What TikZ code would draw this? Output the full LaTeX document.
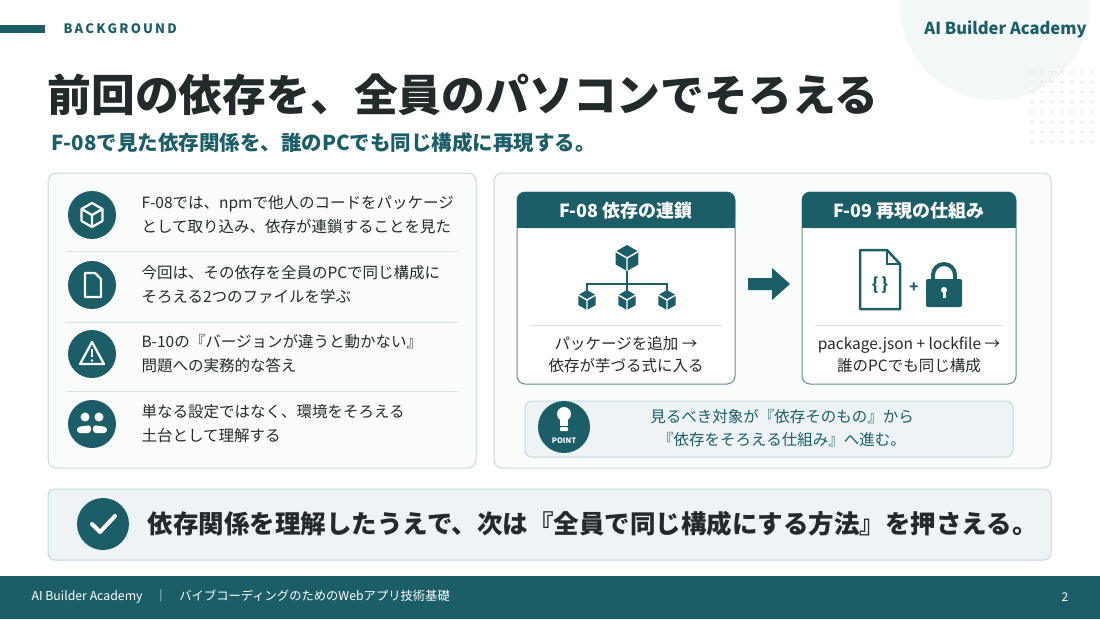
\documentclass[tikz,border=0pt]{standalone}
\usepackage{fontspec}
\setmainfont{Noto Sans CJK JP}
\usetikzlibrary{arrows.meta,shapes.geometric}
\definecolor{teal}{HTML}{1B5E68}
\definecolor{bord}{HTML}{C3DADD}
\definecolor{panel}{HTML}{FAFCFC}
\definecolor{soft}{HTML}{EEF4F5}
\definecolor{ink}{HTML}{222A2C}
\definecolor{sep}{HTML}{D5E3E5}
\tikzset{
  panelbox/.style={draw=bord,line width=1pt,fill=panel,rounded corners=8pt},
  softbox/.style={draw=bord,line width=1pt,fill=soft,rounded corners=7pt},
  icirc/.style={circle,fill=teal,minimum size=48pt,inner sep=0pt},
  body/.style={font=\fontsize{15.5}{24}\selectfont,text=ink,anchor=west,align=left},
  ctext/.style={font=\fontsize{15.5}{22}\selectfont,text=ink,align=center},
  hdr/.style={font=\bfseries\fontsize{18}{20}\selectfont,text=white},
  sepl/.style={draw=sep,line width=1pt},
  pics/cube/.style={code={
    \fill[teal] (0,-1)--(0.87,-0.5)--(0.87,0.5)--(0,1)--(-0.87,0.5)--(-0.87,-0.5)--cycle;
    \draw[white,line width=1.4pt] (-0.87,-0.5)--(0,0)--(0.87,-0.5) (0,0)--(0,1);
  }},
  pics/wcube/.style={code={
    \draw[white,line width=2.2pt,line join=round] (0,-1)--(0.87,-0.5)--(0.87,0.5)--(0,1)--(-0.87,0.5)--(-0.87,-0.5)--cycle;
    \draw[white,line width=2.2pt] (-0.87,-0.5)--(0,0)--(0.87,-0.5) (0,0)--(0,1);
  }}
}
\begin{document}
\begin{tikzpicture}[x=1pt,y=-1pt]
\useasboundingbox (0,0) rectangle (1100,619);
\fill[white] (0,0) rectangle (1100,619);
% decoration top right
\begin{scope}
\clip (0,0) rectangle (1100,619);
\fill[soft!70] (995,5) circle (95);
\foreach \i in {0,...,6}{\foreach \j in {0,...,7}{\fill[bord!80] (1032+\i*10,72+\j*10) circle (1.1);}}
\end{scope}
% header
\fill[teal] (0,25) rectangle (45,33);
\node[anchor=west,text=teal,font=\bfseries\fontsize{13}{14}\selectfont] (bg) at (60,29) {B\,A\,C\,K\,G\,R\,O\,U\,N\,D};
\node[anchor=east,text=teal,font=\bfseries\fontsize{16.5}{18}\selectfont] (brand) at (1090,29) {AI Builder Academy};
\node[anchor=west,text=ink,font=\bfseries\fontsize{43.8}{46}\selectfont] (title) at (44,95) {前回の依存を、全員のパソコンでそろえる};
\node[anchor=west,text=teal,font=\bfseries\fontsize{20.5}{22}\selectfont] (sub) at (48,143) {F-08で見た依存関係を、誰のPCでも同じ構成に再現する。};
% left panel
\draw[panelbox] (48,173) rectangle (476,468);
\draw[sepl] (66,251)--(458,251) (66,322)--(458,322) (66,391)--(458,391);
\node[icirc] (i1) at (92,215) {};
\node[icirc] (i2) at (92,285) {};
\node[icirc] (i3) at (92,354) {};
\node[icirc] (i4) at (92,424) {};
\pic[scale=12] at (i1) {wcube};
\draw[white,line width=2.2pt,line join=round] (85,273)--(95,273)--(101,279)--(101,297)--(85,297)--cycle;
\draw[white,line width=2.2pt,line join=round] (92,342)--(104,364)--(80,364)--cycle;
\draw[white,line width=2.2pt] (92,349)--(92,357);
\fill[white] (92,360.5) circle (1.3);
\fill[white] (85,417) circle (4.5) (99,417) circle (4.5);
\fill[white,rounded corners=3pt] (77,433) -- (77,427) -- (91,425) -- (91,433) -- cycle;
\fill[white,rounded corners=3pt] (93,433) -- (93,425) -- (107,427) -- (107,433) -- cycle;
\node[body] (t1) at (138,215) {F-08では、npmで他人のコードをパッケージ\\として取り込み、依存が連鎖することを見た};
\node[body] (t2) at (138,285) {今回は、その依存を全員のPCで同じ構成に\\そろえる2つのファイルを学ぶ};
\node[body] (t3) at (138,354) {B-10の『バージョンが違うと動かない』\\問題への実務的な答え};
\node[body] (t4) at (138,424) {単なる設定ではなく、環境をそろえる\\土台として理解する};
% right panel
\draw[panelbox] (494,173) rectangle (1051,468);
% box1
\draw[draw=teal!70,line width=1pt,fill=white,rounded corners=8pt] (517,192) rectangle (735,384);
\fill[teal,rounded corners=8pt] (517,192) rectangle (735,228);
\fill[teal] (517,215) rectangle (735,228);
\node[hdr] (h1) at (626,211) {F-08 依存の連鎖};
\draw[teal,line width=2pt] (627,270)--(627,284) (587,292)--(587,284)--(667,284)--(667,292) (627,284)--(627,292);
\pic[scale=13] at (627,258) {cube};
\pic[scale=10] at (587,300) {cube};
\pic[scale=10] at (627,300) {cube};
\pic[scale=10] at (667,300) {cube};
\draw[sepl] (530,325)--(722,325);
\node[ctext] (c1) at (626,355) {パッケージを追加 →\\依存が芋づる式に入る};
% arrow
\fill[teal] (748,278)--(772,278)--(772,268)--(790,284)--(772,300)--(772,290)--(748,290)--cycle;
% box2
\draw[draw=teal!70,line width=1pt,fill=white,rounded corners=8pt] (802,192) rectangle (1016,384);
\fill[teal,rounded corners=8pt] (802,192) rectangle (1016,228);
\fill[teal] (802,215) rectangle (1016,228);
\node[hdr] (h2) at (909,211) {F-09 再現の仕組み};
\draw[teal,line width=2.5pt,line join=round] (860,250)--(887,250)--(900,264)--(900,309)--(860,309)--cycle;
\draw[teal,line width=2pt] (887,250)--(887,264)--(900,264);
\node[text=teal,font=\bfseries\fontsize{17}{18}\selectfont] (br) at (880,285) {\{\,\}};
\node[text=teal,font=\bfseries\fontsize{15}{16}\selectfont] (plus) at (914,288) {+};
\draw[teal,line width=4pt] (933,281)--(933,275) arc (180:360:11)--(955,281);
\fill[teal,rounded corners=2pt] (926,279) rectangle (962,307);
\fill[white] (944,290) circle (3);
\fill[white] (942.5,290) rectangle (945.5,298);
\draw[sepl] (815,325)--(1003,325);
\node[ctext] (c2) at (909,355) {package.json + lockfile →\\誰のPCでも同じ構成};
% point box
\draw[softbox] (525,401) rectangle (1013,457);
\node[circle,fill=teal,minimum size=52pt,inner sep=0pt] (pt) at (564,427) {};
\fill[white] (564,414) circle (7);
\fill[white] (560,418) rectangle (568,426);
\fill[white,rounded corners=1pt] (560,427) rectangle (568,431);
\node[text=white,font=\bfseries\fontsize{7.5}{8}\selectfont] (ptl) at (564,441) {POINT};
\node[font=\fontsize{15.5}{23}\selectfont,text=teal,align=center] (pttx) at (782,428) {見るべき対象が『依存そのもの』から\\『依存をそろえる仕組み』へ進む。};
% banner
\draw[softbox] (48,489) rectangle (1051,560);
\node[circle,fill=teal,minimum size=52pt,inner sep=0pt] (ck) at (103,524) {};
\draw[white,line width=4pt,line cap=round,line join=round] (92,524)--(100,532)--(115,516);
\node[anchor=west,text=ink,font=\bfseries\fontsize{25.5}{27}\selectfont] (ban) at (144,524) {依存関係を理解したうえで、次は『全員で同じ構成にする方法』を押さえる。};
% footer
\fill[teal] (0,576) rectangle (1100,619);
\node[anchor=west,text=white,font=\fontsize{12.3}{14}\selectfont] (ft) at (28,597) {AI Builder Academy\quad｜\quad バイブコーディングのためのWebアプリ技術基礎};
\node[text=white,font=\fontsize{12}{14}\selectfont] (pg) at (1065,597) {2};
\end{tikzpicture}
\end{document}
